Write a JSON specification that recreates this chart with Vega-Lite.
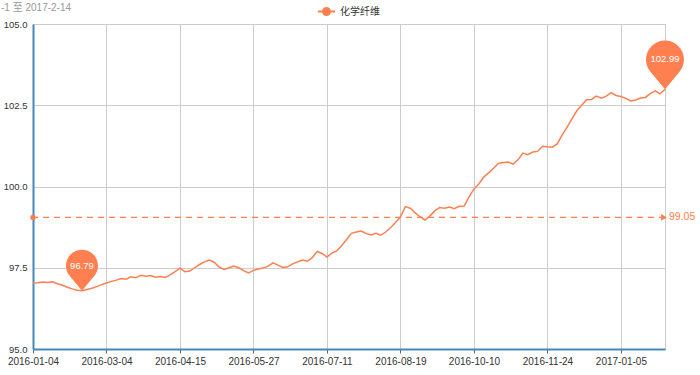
{
  "$schema": "https://vega.github.io/schema/vega-lite/v6.json",
  "width": 632,
  "height": 325,
  "autosize": "none",
  "padding": {"left": 33, "top": 24, "right": 35, "bottom": 26},
  "background": "#ffffff",
  "config": {
    "view": {"stroke": "#cccccc", "strokeWidth": 1},
    "font": "Liberation Sans, Arial, sans-serif",
    "axis": {"labelFont": "Liberation Sans, Arial, sans-serif"}
  },
  "title": {
    "text": "-1 至 2017-2-14",
    "anchor": "start",
    "frame": "group",
    "dx": -32,
    "fontSize": 10,
    "fontWeight": "normal",
    "color": "#999999",
    "font": "Liberation Sans, Noto Sans CJK SC, sans-serif",
    "baseline": "bottom",
    "offset": -21
  },
  "datasets": {
    "series": [
      {"d": "2016-01-04", "v": 97.03}, {"d": "2016-01-06", "v": 97.04}, {"d": "2016-01-08", "v": 97.06},
      {"d": "2016-01-12", "v": 97.05}, {"d": "2016-01-14", "v": 97.07}, {"d": "2016-01-18", "v": 97.01},
      {"d": "2016-01-20", "v": 96.96}, {"d": "2016-01-22", "v": 96.90}, {"d": "2016-01-26", "v": 96.85},
      {"d": "2016-01-28", "v": 96.81}, {"d": "2016-02-01", "v": 96.79}, {"d": "2016-02-03", "v": 96.83},
      {"d": "2016-02-05", "v": 96.87}, {"d": "2016-02-16", "v": 96.92}, {"d": "2016-02-24", "v": 96.98},
      {"d": "2016-03-04", "v": 97.03}, {"d": "2016-03-08", "v": 97.08}, {"d": "2016-03-10", "v": 97.12},
      {"d": "2016-03-14", "v": 97.17}, {"d": "2016-03-16", "v": 97.15}, {"d": "2016-03-18", "v": 97.22},
      {"d": "2016-03-22", "v": 97.19}, {"d": "2016-03-24", "v": 97.27}, {"d": "2016-03-28", "v": 97.24},
      {"d": "2016-03-30", "v": 97.26}, {"d": "2016-04-01", "v": 97.21}, {"d": "2016-04-06", "v": 97.23},
      {"d": "2016-04-08", "v": 97.20}, {"d": "2016-04-11", "v": 97.28}, {"d": "2016-04-13", "v": 97.38},
      {"d": "2016-04-15", "v": 97.49}, {"d": "2016-04-19", "v": 97.38}, {"d": "2016-04-21", "v": 97.40},
      {"d": "2016-04-25", "v": 97.50}, {"d": "2016-04-27", "v": 97.60}, {"d": "2016-04-29", "v": 97.68},
      {"d": "2016-05-04", "v": 97.74}, {"d": "2016-05-06", "v": 97.67}, {"d": "2016-05-10", "v": 97.52},
      {"d": "2016-05-12", "v": 97.45}, {"d": "2016-05-16", "v": 97.50}, {"d": "2016-05-18", "v": 97.55},
      {"d": "2016-05-20", "v": 97.50}, {"d": "2016-05-23", "v": 97.41}, {"d": "2016-05-25", "v": 97.34},
      {"d": "2016-05-27", "v": 97.42}, {"d": "2016-05-31", "v": 97.46}, {"d": "2016-06-02", "v": 97.49},
      {"d": "2016-06-06", "v": 97.55}, {"d": "2016-06-08", "v": 97.65}, {"d": "2016-06-14", "v": 97.58},
      {"d": "2016-06-16", "v": 97.51}, {"d": "2016-06-20", "v": 97.53}, {"d": "2016-06-22", "v": 97.62},
      {"d": "2016-06-24", "v": 97.68}, {"d": "2016-06-28", "v": 97.74}, {"d": "2016-06-30", "v": 97.70},
      {"d": "2016-07-04", "v": 97.81}, {"d": "2016-07-06", "v": 98.00}, {"d": "2016-07-08", "v": 97.94},
      {"d": "2016-07-11", "v": 97.83}, {"d": "2016-07-13", "v": 97.95}, {"d": "2016-07-15", "v": 98.02},
      {"d": "2016-07-19", "v": 98.18}, {"d": "2016-07-21", "v": 98.37}, {"d": "2016-07-25", "v": 98.56},
      {"d": "2016-07-27", "v": 98.60}, {"d": "2016-07-29", "v": 98.63}, {"d": "2016-08-02", "v": 98.55},
      {"d": "2016-08-04", "v": 98.51}, {"d": "2016-08-08", "v": 98.56}, {"d": "2016-08-10", "v": 98.50},
      {"d": "2016-08-12", "v": 98.60}, {"d": "2016-08-15", "v": 98.74}, {"d": "2016-08-17", "v": 98.89},
      {"d": "2016-08-19", "v": 99.06}, {"d": "2016-08-23", "v": 99.38}, {"d": "2016-08-25", "v": 99.33},
      {"d": "2016-08-29", "v": 99.19}, {"d": "2016-08-31", "v": 99.07}, {"d": "2016-09-02", "v": 98.97},
      {"d": "2016-09-06", "v": 99.09}, {"d": "2016-09-08", "v": 99.25}, {"d": "2016-09-12", "v": 99.35},
      {"d": "2016-09-14", "v": 99.33}, {"d": "2016-09-20", "v": 99.37}, {"d": "2016-09-22", "v": 99.32},
      {"d": "2016-09-26", "v": 99.39}, {"d": "2016-09-28", "v": 99.40}, {"d": "2016-09-30", "v": 99.68},
      {"d": "2016-10-10", "v": 99.92}, {"d": "2016-10-12", "v": 100.08}, {"d": "2016-10-14", "v": 100.29},
      {"d": "2016-10-18", "v": 100.42}, {"d": "2016-10-20", "v": 100.56}, {"d": "2016-10-24", "v": 100.71},
      {"d": "2016-10-26", "v": 100.74}, {"d": "2016-10-28", "v": 100.75}, {"d": "2016-11-01", "v": 100.69},
      {"d": "2016-11-03", "v": 100.82}, {"d": "2016-11-07", "v": 101.03}, {"d": "2016-11-10", "v": 100.98},
      {"d": "2016-11-14", "v": 101.06}, {"d": "2016-11-17", "v": 101.08}, {"d": "2016-11-21", "v": 101.24},
      {"d": "2016-11-24", "v": 101.22}, {"d": "2016-11-28", "v": 101.21}, {"d": "2016-11-30", "v": 101.31},
      {"d": "2016-12-02", "v": 101.58}, {"d": "2016-12-06", "v": 101.82}, {"d": "2016-12-08", "v": 102.08},
      {"d": "2016-12-12", "v": 102.33}, {"d": "2016-12-14", "v": 102.50}, {"d": "2016-12-16", "v": 102.67},
      {"d": "2016-12-20", "v": 102.68}, {"d": "2016-12-22", "v": 102.78}, {"d": "2016-12-26", "v": 102.72},
      {"d": "2016-12-28", "v": 102.78}, {"d": "2016-12-30", "v": 102.89}, {"d": "2017-01-03", "v": 102.80},
      {"d": "2017-01-05", "v": 102.77}, {"d": "2017-01-09", "v": 102.71}, {"d": "2017-01-11", "v": 102.63},
      {"d": "2017-01-13", "v": 102.66}, {"d": "2017-01-17", "v": 102.72}, {"d": "2017-01-20", "v": 102.74},
      {"d": "2017-01-24", "v": 102.86}, {"d": "2017-02-06", "v": 102.94}, {"d": "2017-02-10", "v": 102.85},
      {"d": "2017-02-14", "v": 102.99}
    ],
    "avg": [
      {"d": "2016-01-04", "v": 99.05, "p": "start"},
      {"d": "2017-02-14", "v": 99.05, "p": "end"}
    ],
    "marks": [
      {"d": "2016-02-01", "v": 96.79, "t": "min"},
      {"d": "2017-02-14", "v": 102.99, "t": "max"}
    ]
  },
  "encoding": {
    "x": {
      "field": "d", "type": "ordinal", "sort": "ascending",
      "scale": {"type": "point", "padding": 0},
      "axis": {
        "values": ["2016-01-04", "2016-03-04", "2016-04-15", "2016-05-27", "2016-07-11", "2016-08-19", "2016-10-10", "2016-11-24", "2017-01-05"],
        "title": null, "labelAngle": 0, "labelFontSize": 10, "labelColor": "#333333",
        "grid": true, "gridColor": "#cccccc", "domainColor": "#4488bb", "domainWidth": 2,
        "tickColor": "#666666", "tickSize": 4, "labelPadding": 3
      }
    },
    "y": {
      "field": "v", "type": "quantitative",
      "scale": {"domain": [95, 105], "nice": false, "zero": false},
      "axis": {
        "values": [95, 97.5, 100, 102.5, 105], "format": ".1f", "title": null,
        "labelFontSize": 9.5, "labelColor": "#333333", "grid": true, "gridColor": "#cccccc",
        "domainColor": "#4488bb", "domainWidth": 2, "ticks": false, "labelPadding": 6
      }
    }
  },
  "layer": [
    {
      "data": {"name": "series"},
      "mark": {"type": "line", "strokeWidth": 1.5},
      "encoding": {
        "color": {
          "datum": "化学纤维",
          "scale": {"range": ["#ff7f50"]},
          "legend": {
            "orient": "none", "legendX": 284, "legendY": -22, "direction": "horizontal",
            "title": null, "padding": 0,
            "symbolType": "M-1,0H-0.42M0.42,0H1M0.42,0A0.42,0.42,0,1,1,-0.42,0A0.42,0.42,0,1,1,0.42,0",
            "symbolSize": 289, "symbolStrokeWidth": 2,
            "labelFontSize": 10, "labelColor": "#333333", "labelFont": "Noto Sans CJK SC", "labelOffset": 4,
            "encode": {"symbols": {"update": {"fill": {"value": "#ff7f50"}, "stroke": {"value": "#ff7f50"}, "strokeWidth": {"value": 2}}}}
          }
        }
      }
    },
    {
      "data": {"name": "avg"},
      "transform": [{"filter": "datum.p == 'start'"}],
      "mark": {"type": "rule", "color": "#ff7f50", "strokeWidth": 1.2, "strokeDash": [6, 5]},
      "encoding": {"x": null}
    },
    {
      "data": {"name": "avg"},
      "transform": [{"filter": "datum.p == 'start'"}],
      "mark": {"type": "point", "shape": "circle", "filled": true, "color": "#ff7f50", "size": 30, "opacity": 1}
    },
    {
      "data": {"name": "avg"},
      "transform": [{"filter": "datum.p == 'end'"}],
      "mark": {"type": "point", "shape": "triangle-right", "filled": true, "color": "#ff7f50", "size": 45, "opacity": 1, "xOffset": -1}
    },
    {
      "data": {"name": "avg"},
      "transform": [{"filter": "datum.p == 'end'"}],
      "mark": {"type": "text", "align": "left", "baseline": "middle", "dx": 4, "fontSize": 10.5, "color": "#ff7f50"},
      "encoding": {"text": {"field": "v", "type": "quantitative", "format": ".2f"}}
    },
    {
      "data": {"name": "marks"},
      "transform": [{"filter": "datum.t == 'min'"}],
      "mark": {"type": "point", "shape": "M0,0L-0.62,-0.75A0.8,0.8,0,1,1,0.62,-0.75Z", "filled": true, "color": "#ff7f50", "size": 1600, "opacity": 1}
    },
    {
      "data": {"name": "marks"},
      "transform": [{"filter": "datum.t == 'max'"}],
      "mark": {"type": "point", "shape": "M0,0L-0.62,-0.75A0.8,0.8,0,1,1,0.62,-0.75Z", "filled": true, "color": "#ff7f50", "size": 2256, "opacity": 1}
    },
    {
      "data": {"name": "marks"},
      "transform": [{"filter": "datum.t == 'min'"}],
      "mark": {"type": "text", "align": "center", "baseline": "middle", "dy": -25, "fontSize": 9.5, "color": "#ffffff"},
      "encoding": {"text": {"field": "v", "type": "quantitative", "format": ".2f"}}
    },
    {
      "data": {"name": "marks"},
      "transform": [{"filter": "datum.t == 'max'"}],
      "mark": {"type": "text", "align": "center", "baseline": "middle", "dy": -30, "fontSize": 9.5, "color": "#ffffff"},
      "encoding": {"text": {"field": "v", "type": "quantitative", "format": ".2f"}}
    }
  ]
}
